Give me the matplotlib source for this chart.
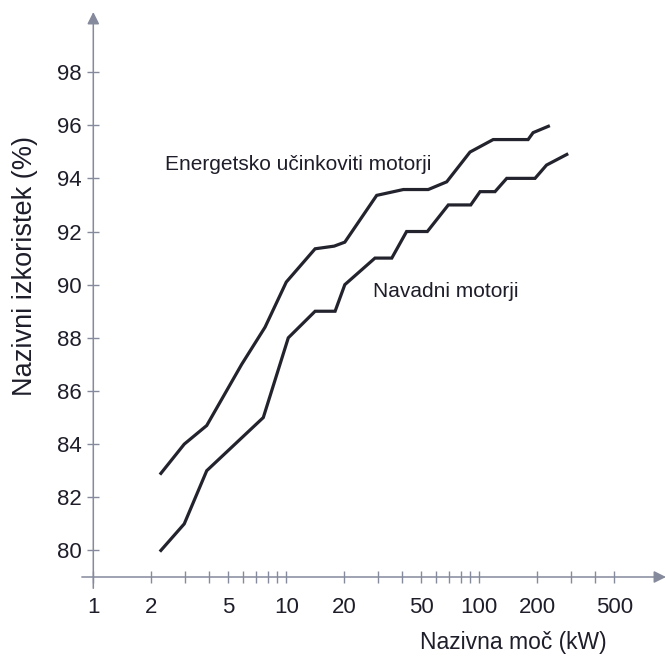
import matplotlib
matplotlib.use("Agg")
import matplotlib.pyplot as plt
from matplotlib.ticker import FixedLocator, FixedFormatter, NullLocator

plt.rcParams['font.family'] = ['Liberation Sans', 'DejaVu Sans']

# Data (rated power kW vs rated efficiency %)
eff_x = [2.24, 2.96, 3.87, 5.87, 7.76, 10.0, 14.1, 17.7, 20.1, 29.4, 40.4, 54.4,
         67.8, 89.5, 118, 179, 190, 228]
eff_y = [82.9, 84.0, 84.7, 87.0, 88.4, 90.1, 91.35, 91.45, 91.6, 93.36, 93.58, 93.58,
         93.87, 94.99, 95.46, 95.46, 95.72, 95.96]
std_x = [2.24, 2.96, 3.87, 7.6, 10.24, 14.1, 17.9, 20.1, 28.8, 35.2, 42.0, 53.8,
         69.1, 90.3, 100.9, 120.6, 138.7, 194.4, 223, 284]
std_y = [80.0, 81.0, 83.0, 85.0, 88.0, 89.0, 89.0, 90.0, 91.0, 91.0, 92.0, 92.0,
         93.0, 93.0, 93.5, 93.5, 94.0, 94.0, 94.5, 94.9]

x_ticks = [1, 2, 3, 4, 5, 6, 7, 8, 9, 10, 20, 30, 40, 50, 60, 70, 80, 90, 100,
           200, 300, 400, 500]
x_labeled = [1, 2, 5, 10, 20, 50, 100, 200, 500]
y_ticks = [80, 82, 84, 86, 88, 90, 92, 94, 96, 98]

label_eff = "Energetsko učinkoviti motorji"
label_std = "Navadni motorji"
xlabel = "Nazivna moč (kW)"
ylabel = "Nazivni izkoristek (%)"

W, H = 666, 658
fig = plt.figure(figsize=(W / 100, H / 100), dpi=100)
left_px, right_px = 93.3, 666
bottom_px, top_px = 577, 12
ax = fig.add_axes([left_px / W, (H - bottom_px) / H,
                   (right_px - left_px) / W, (bottom_px - top_px) / H])
ax.set_xscale('log')
ax.set_xlim(1, 10 ** ((right_px - left_px) / 193))
ax.set_ylim(79.0, 100.26)

line_col = '#23232e'
axis_col = '#858a9c'
text_col = '#1e1e2a'

ax.plot(eff_x, eff_y, color=line_col, lw=2.3, solid_joinstyle='miter', clip_on=False)
ax.plot(std_x, std_y, color=line_col, lw=2.3, solid_joinstyle='miter', clip_on=False)

for s in ax.spines.values():
    s.set_visible(False)

# axes lines with arrows
ax.annotate('', xy=(1.0, 0), xytext=(-0.02, 0), xycoords='axes fraction',
            arrowprops=dict(arrowstyle='-|>', color=axis_col, lw=1.1,
                            mutation_scale=18, shrinkA=0, shrinkB=0,
                            facecolor='#111111'))
ax.annotate('', xy=(0, 1.0), xytext=(0, -0.02), xycoords='axes fraction',
            arrowprops=dict(arrowstyle='-|>', color=axis_col, lw=1.1,
                            mutation_scale=18, shrinkA=0, shrinkB=0,
                            facecolor='#111111'))

ax.xaxis.set_major_locator(FixedLocator(x_ticks))
ax.xaxis.set_major_formatter(FixedFormatter(
    [str(t) if t in x_labeled else '' for t in x_ticks]))
ax.xaxis.set_minor_locator(NullLocator())
ax.yaxis.set_major_locator(FixedLocator(y_ticks))
ax.yaxis.set_major_formatter(FixedFormatter([str(t) for t in y_ticks]))

ax.tick_params(axis='both', direction='inout', length=9, width=1.0,
               color=axis_col, labelsize=16, labelcolor=text_col)
ax.tick_params(axis='x', pad=10)
ax.tick_params(axis='y', pad=4)

ax.text(2.35, 94.30, label_eff, fontsize=15, color=text_col, ha='left', va='baseline')
ax.text(28.2, 89.52, label_std, fontsize=15, color=text_col, ha='left', va='baseline')

fig.text(607 / W, (H - 643) / H, xlabel, fontsize=16.5, color=text_col,
         ha='right', va='center')
fig.text(25 / W, (H - 266) / H, ylabel, fontsize=19.5, color=text_col,
         ha='center', va='center', rotation=90)

fig.savefig('out.png', dpi=100)
